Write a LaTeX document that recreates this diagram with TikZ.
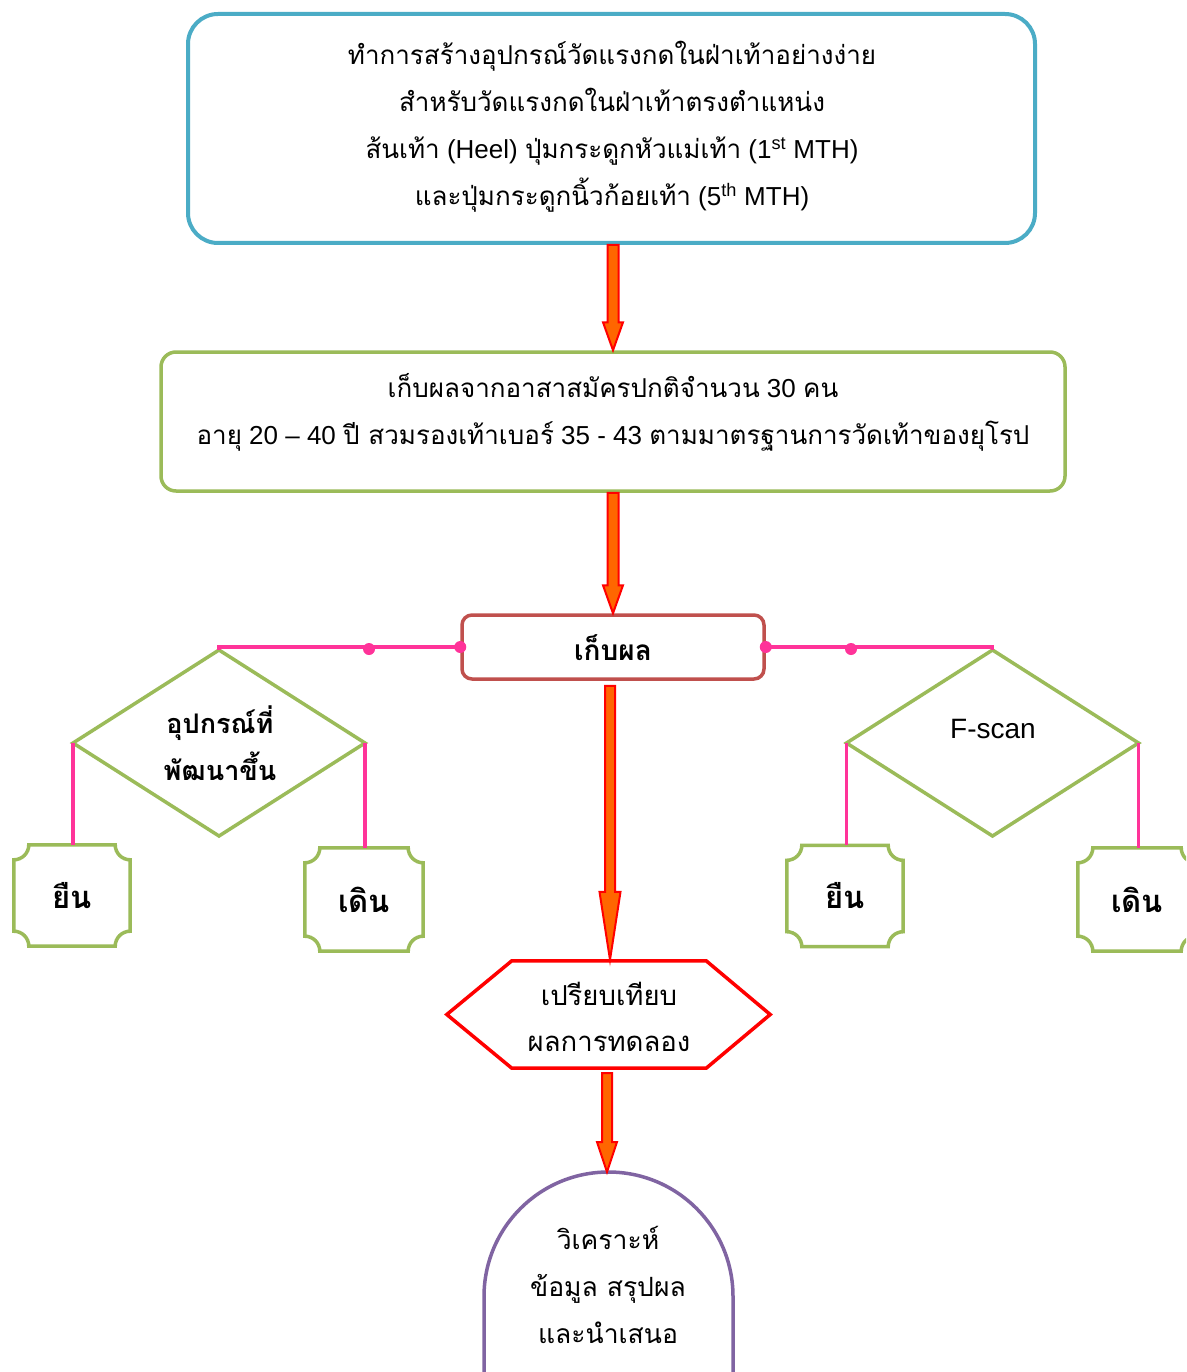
\documentclass[tikz,border=0pt]{standalone}
\usepackage{fontspec}
\setmainfont{Liberation Sans}
\newfontfamily\thf[Script=Thai]{Loma}
\usetikzlibrary{calc,shapes.geometric}
\definecolor{cteal}{HTML}{4BACC6}
\definecolor{cgreen}{HTML}{9BBB59}
\definecolor{cbrown}{HTML}{C0504D}
\definecolor{cpurple}{HTML}{8064A2}
\definecolor{cpink}{HTML}{FF3399}
\definecolor{corange}{HTML}{FF6600}
\tikzset{
  barrow/.style n args={3}{draw=red, fill=corange, line width=2pt, line join=miter,
    to path={let \p1=(\tikztostart), \p2=(\tikztotarget) in
      (\x1-#1pt,\y1) -- (\x1+#1pt,\y1) -- (\x1+#1pt,\y2+#3pt) -- (\x1+#2pt,\y2+#3pt)
      -- (\x1,\y2) -- (\x1-#2pt,\y2+#3pt) -- (\x1-#1pt,\y2+#3pt) -- cycle}},
  pinkline/.style={draw=cpink, line width=3.5pt},
  pdot/.style={circle, fill=cpink, inner sep=0pt, minimum size=12pt},
  txt/.style={align=center, inner sep=0pt, font=\fontsize{26}{47}\selectfont},
  smallbox/.style={rectangle, inner sep=0pt, minimum width=116pt, minimum height=101pt,
    font=\fontsize{31}{36}\selectfont\thf\bfseries},
  plaque/.style={draw=cgreen, line width=3.5pt},
}
\newcommand{\plaquepath}[1]{%
  \draw[plaque] ($(#1.north west)+(15,0)$) -- ($(#1.north east)+(-15,0)$)
    arc[start angle=180,end angle=270,radius=15pt]
    -- ($(#1.south east)+(0,-15)$)
    arc[start angle=90,end angle=180,radius=15pt]
    -- ($(#1.south west)+(15,0)$)
    arc[start angle=0,end angle=90,radius=15pt]
    -- ($(#1.north west)+(0,15)$)
    arc[start angle=270,end angle=360,radius=15pt] -- cycle;}
\begin{document}
\begin{tikzpicture}[x=1pt,y=-1pt]
\useasboundingbox (0,0) rectangle (1186,1372);
\fill[white] (0,0) rectangle (1186,1372);
\clip (0,0) rectangle (1186,1372);

% top box
\node[draw=cteal, line width=4pt, rounded corners=30pt, minimum width=847pt, minimum height=229pt, inner sep=0pt] (top) at (611.5,128.5) {};
\node[txt] (toptxt) at (612,127) {%
  {\thf ทำการสร้างอุปกรณ์วัดแรงกดในฝ่าเท้าอย่างง่าย}\\
  {\thf สำหรับวัดแรงกดในฝ่าเท้าตรงตำแหน่ง}\\
  {\thf ส้นเท้า} (Heel) {\thf ปุ่มกระดูกหัวแม่เท้า} (1\textsuperscript{st} MTH)\\
  {\thf และปุ่มกระดูกนิ้วก้อยเท้า} (5\textsuperscript{th} MTH)};

% box 2
\node[draw=cgreen, line width=3.5pt, rounded corners=15pt, minimum width=904pt, minimum height=139pt, inner sep=0pt] (box2) at (613,421.5) {};
\node[txt] (box2txt) at (613,412) {%
  {\thf เก็บผลจากอาสาสมัครปกติจำนวน} 30 {\thf คน}\\
  {\thf อายุ} 20 – 40 {\thf ปี สวมรองเท้าเบอร์} 35 - 43 {\thf ตามมาตรฐานการวัดเท้าของยุโรป}};

% box 3
\node[draw=cbrown, line width=3.5pt, rounded corners=10pt, minimum width=302pt, minimum height=64pt, inner sep=0pt] (box3) at (613,647) {};
\node[txt, font=\fontsize{28}{47}\selectfont\thf\bfseries] (box3txt) at (613,648) {เก็บผล};

% diamonds
\node[diamond, draw=cgreen, line width=3.5pt, minimum width=292pt, minimum height=186pt, inner sep=0pt, outer sep=0pt] (d1) at (219,743) {};
\node[txt, font=\fontsize{27}{47}\selectfont\thf\bfseries] (d1txt) at (220,743) {อุปกรณ์ที่\\พัฒนาขึ้น};
\node[diamond, draw=cgreen, line width=3.5pt, minimum width=292pt, minimum height=186pt, inner sep=0pt, outer sep=0pt] (d2) at (992.5,743) {};
\node[txt, font=\fontsize{28}{30}\selectfont] (d2txt) at (993,729) {F-scan};

% small boxes
\node[smallbox] (s1) at (72,895.5) {ยืน};
\node[smallbox, minimum width=118pt, minimum height=103pt] (s2) at (364,899.5) {เดิน};
\node[smallbox] (s3) at (845,896) {ยืน};
\node[smallbox, minimum width=118pt, minimum height=103pt] (s4) at (1137,899.5) {เดิน};
\plaquepath{s1}
\plaquepath{s2}
\plaquepath{s3}
\plaquepath{s4}

% pink connectors
\coordinate (pl) at (369,649);
\coordinate (pr) at (851,649);
\draw[pinkline] (box3.west) -- (d1.north |- box3.west) -- (d1.north);
\draw[pinkline] (box3.east) -- (d2.north |- box3.east) -- (d2.north);
\node[pdot] at (box3.west) {};
\node[pdot] at (box3.east) {};
\node[pdot] at (pl) {};
\node[pdot] at (pr) {};
\draw[pinkline] (d1.west) -- (d1.west |- s1.north);
\draw[pinkline] (d1.east) -- (d1.east |- s2.north);
\draw[pinkline] (d2.west) -- (d2.west |- s3.north);
\draw[pinkline] (d2.east) -- (d2.east |- s4.north);

% hexagon
\node[inner sep=0pt, minimum width=323pt, minimum height=107pt] (hex) at (608.5,1014.5) {};
\draw[red, line width=3.5pt] (hex.west) -- ($(hex.north west)+(65,0)$) -- ($(hex.north east)+(-64,0)$)
  -- (hex.east) -- ($(hex.south east)+(-64,0)$) -- ($(hex.south west)+(65,0)$) -- cycle;
\node[txt, font=\fontsize{27.5}{46}\selectfont\thf] (hextxt) at (609,1017) {เปรียบเทียบ\\ผลการทดลอง};

% arch
\coordinate (archtop) at (608.5,1172);
\draw[cpurple, line width=3.5pt] (484,1400) -- (484,1296.5) arc[start angle=180,end angle=0,radius=124.5pt] -- (733,1400);
\node[txt, font=\fontsize{26.5}{47}\selectfont\thf] (archtxt) at (608,1285) {วิเคราะห์\\ข้อมูล สรุปผล\\และนำเสนอ};

% block arrows
\draw[barrow={5.5}{10}{28}] ($(top.south)+(1.5,0)$) to (box2.north);
\draw[barrow={5.5}{10}{28}] ($(box2.south)+(0,0)$) to (box3.north);
\draw[barrow={5}{10.5}{68}] ($(box3.south)+(-3,5)$) to ($(hex.north)+(1.5,-1)$);
\draw[barrow={5}{10}{30}] ($(hex.south)+(-1.5,5)$) to (archtop);
\end{tikzpicture}
\end{document}
